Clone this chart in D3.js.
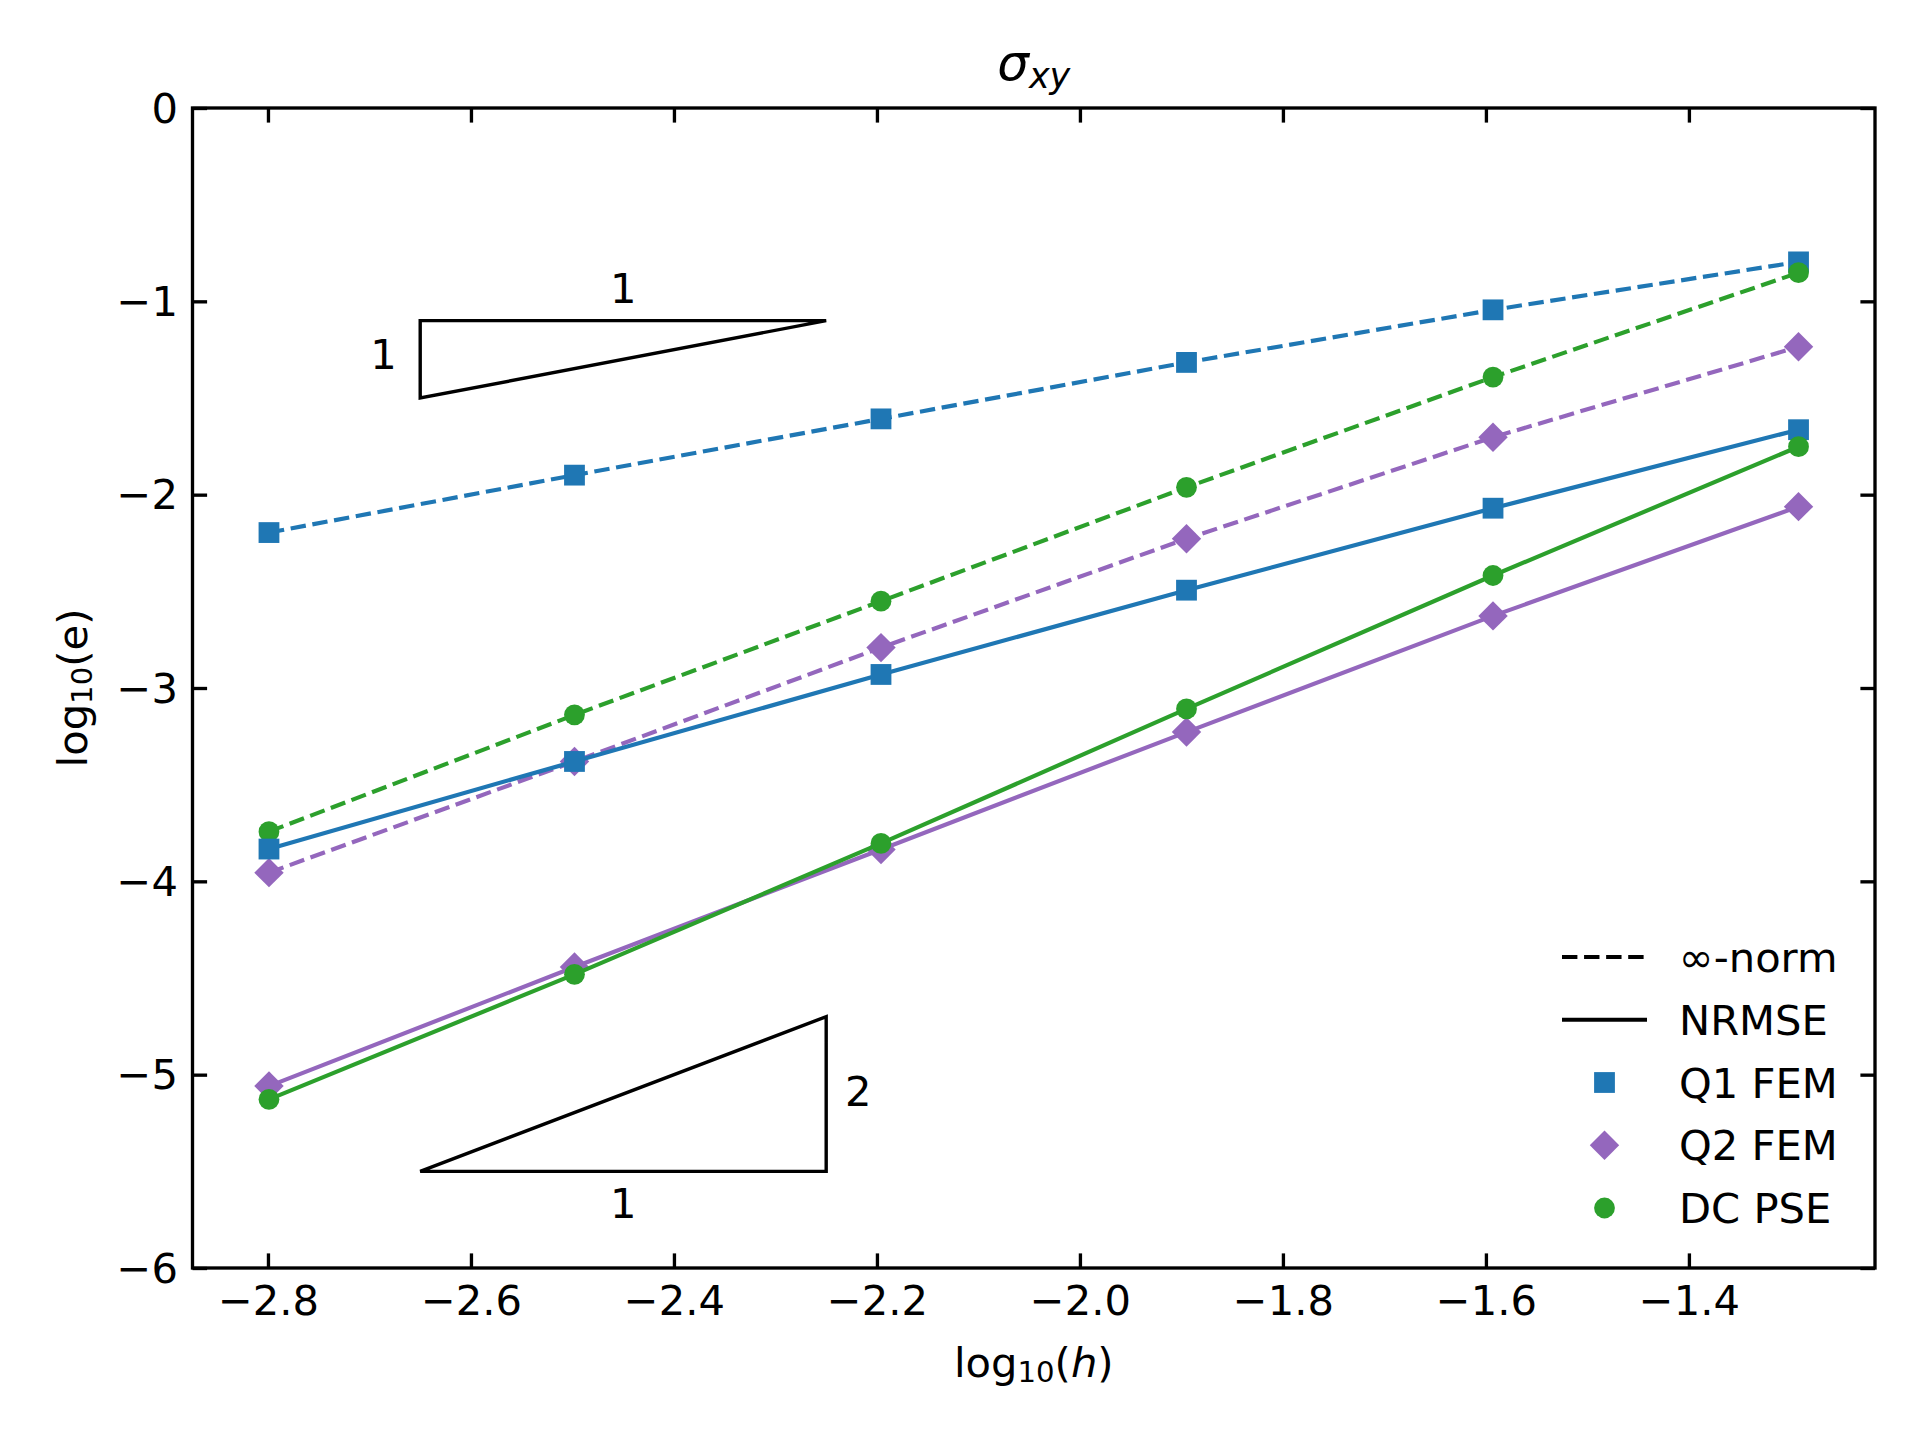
<!DOCTYPE html>
<html>
<head>
<meta charset="utf-8">
<script src="https://cdn.jsdelivr.net/npm/d3@7"></script>
<style>
    body { margin: 0; background: #ffffff; }
    svg { display: block; font-family: "DejaVu Sans", sans-serif; }
</style>
</head>
<body>
<svg id="svg-chart"></svg>
<script>
// data
const logH = [-2.799, -2.498, -2.196, -1.895, -1.593, -1.292];

const q1Inf   = [-2.196, -1.899, -1.608, -1.316, -1.044, -0.796];
const q1Rmse  = [-3.833, -3.380, -2.930, -2.494, -2.070, -1.664];
const q2Inf   = [-3.955, -3.380, -2.791, -2.228, -1.703, -1.235];
const q2Rmse  = [-5.059, -4.443, -3.835, -3.228, -2.627, -2.062];
const dcInf   = [-3.743, -3.139, -2.551, -1.962, -1.392, -0.852];
const dcRmse  = [-5.128, -4.481, -3.804, -3.108, -2.418, -1.752];

const methodNames = ['Q1 FEM', 'Q2 FEM', 'DC PSE'];
const normNames = ['\u221e-norm', 'NRMSE'];

const xTicks = [-2.8, -2.6, -2.4, -2.2, -2.0, -1.8, -1.6, -1.4];
const yTicks = [0, -1, -2, -3, -4, -5, -6];

// slope triangles (data coordinates) and their labels (baseline in data units)
const triSlope1 = [[-2.65, -1.1], [-2.25, -1.1], [-2.65, -1.5]];
const triSlope2 = [[-2.65, -5.5], [-2.25, -5.5], [-2.25, -4.7]];
const triLabels = [
    {text: '1', x: -2.45, y: -1.009, anchor: 'middle'},
    {text: '1', x: -2.673, y: -1.350, anchor: 'end'},
    {text: '2', x: -2.2315, y: -5.162, anchor: 'start'},
    {text: '1', x: -2.45, y: -5.741, anchor: 'middle'}
];

// layout
const width = 1920, height = 1440;
const margin = {left: 192.5, top: 108, right: 45, bottom: 172};
const plotW = width - margin.left - margin.right,
      plotH = height - margin.top - margin.bottom;
const fontSize = 41.67;
const tickLen = 14.6;
const colors = ['#1f77b4', '#9467bd', '#2ca02c'];
const dash = '15.4,6.67';

let svg = d3.select('#svg-chart')
    .attr('width', width)
    .attr('height', height);
svg.append('rect').attr('width', width).attr('height', height).attr('fill', '#ffffff');

// x domain gets 5% padding like matplotlib
let xExt = d3.extent(logH), xPad = (xExt[1] - xExt[0]) * 0.05;
let xScale = d3.scaleLinear()
    .domain([xExt[0] - xPad, xExt[1] + xPad])
    .range([0, plotW]);
let yScale = d3.scaleLinear()
    .domain([-6, 0])
    .range([plotH, 0]);

let g = svg.append('g')
    .attr('transform', 'translate(' + margin.left + ',' + margin.top + ')');

// series: all inf-norm lines first, then NRMSE (same as the drawing order)
const series = [
    {vals: q1Inf, m: 0, dashed: true},
    {vals: q2Inf, m: 1, dashed: true},
    {vals: dcInf, m: 2, dashed: true},
    {vals: q1Rmse, m: 0, dashed: false},
    {vals: q2Rmse, m: 1, dashed: false},
    {vals: dcRmse, m: 2, dashed: false}
];

const symbols = [
    d3.symbol().type(d3.symbolSquare).size(20.8 * 20.8),
    d3.symbol().type(d3.symbolSquare).size(20.8 * 20.8),
    d3.symbol().type(d3.symbolCircle).size(Math.PI * 10.4 * 10.4)
];
const rotations = [0, 45, 0];

let line = d3.line()
    .x(function (d, i) { return xScale(logH[i]); })
    .y(function (d) { return yScale(d); });

for (let s of series) {
    let gs = g.append('g');
    gs.append('path')
        .datum(s.vals)
        .attr('d', line)
        .attr('fill', 'none')
        .attr('stroke', colors[s.m])
        .attr('stroke-width', 4.17)
        .attr('stroke-dasharray', s.dashed ? dash : null);
    gs.selectAll('.marker')
        .data(s.vals)
        .enter()
        .append('path')
        .attr('class', 'marker')
        .attr('d', symbols[s.m])
        .attr('transform', function (d, i) {
            return 'translate(' + xScale(logH[i]) + ',' + yScale(d) + ') rotate(' + rotations[s.m] + ')';
        })
        .attr('fill', colors[s.m]);
}

// slope triangles
for (let tri of [triSlope1, triSlope2]) {
    g.append('path')
        .attr('d', 'M' + tri.map(function (p) { return xScale(p[0]) + ',' + yScale(p[1]); }).join('L') + 'Z')
        .attr('fill', 'none')
        .attr('stroke', '#000')
        .attr('stroke-width', 3.4)
        .attr('stroke-linejoin', 'miter');
}
g.selectAll('.tri-label')
    .data(triLabels)
    .enter()
    .append('text')
    .attr('class', 'tri-label')
    .attr('x', function (d) { return xScale(d.x); })
    .attr('y', function (d) { return yScale(d.y); })
    .attr('text-anchor', function (d) { return d.anchor; })
    .attr('font-size', fontSize)
    .text(function (d) { return d.text; });

// axes with inward ticks on all four sides
let fmtX = d3.format('.1f'), fmtY = d3.format('d');
let axB = g.append('g').attr('transform', 'translate(0,' + plotH + ')')
    .call(d3.axisBottom(xScale).tickValues(xTicks).tickFormat(fmtX).tickSize(-tickLen).tickSizeOuter(0).tickPadding(17));
let axT = g.append('g')
    .call(d3.axisTop(xScale).tickValues(xTicks).tickFormat('').tickSize(-tickLen).tickSizeOuter(0));
let axL = g.append('g')
    .call(d3.axisLeft(yScale).tickValues(yTicks).tickFormat(fmtY).tickSize(-tickLen).tickSizeOuter(0).tickPadding(14.6));
let axR = g.append('g').attr('transform', 'translate(' + plotW + ',0)')
    .call(d3.axisRight(yScale).tickValues(yTicks).tickFormat('').tickSize(-tickLen).tickSizeOuter(0));

for (let ax of [axB, axT, axL, axR]) {
    ax.select('.domain').remove();
    ax.selectAll('line').attr('stroke', '#000').attr('stroke-width', 3.33);
    ax.selectAll('text')
        .attr('font-size', fontSize)
        .attr('font-family', '"DejaVu Sans", sans-serif')
        .attr('fill', '#000');
}
axL.selectAll('text').attr('dy', '0.34em');

// frame
g.append('rect')
    .attr('width', plotW)
    .attr('height', plotH)
    .attr('fill', 'none')
    .attr('stroke', '#000')
    .attr('stroke-width', 3.33);

// title  sigma_xy
let title = svg.append('text')
    .attr('x', margin.left + plotW / 2)
    .attr('y', 80)
    .attr('text-anchor', 'middle')
    .attr('font-size', 50)
    .attr('font-style', 'italic');
title.append('tspan').text('\u03c3');
title.append('tspan').attr('dy', 8).attr('font-size', 35).text('xy');

// x label
let xLab = svg.append('text')
    .attr('x', margin.left + plotW / 2)
    .attr('y', 1377)
    .attr('text-anchor', 'middle')
    .attr('font-size', fontSize);
xLab.append('tspan').text('log');
xLab.append('tspan').attr('dy', 5).attr('font-size', 29.2).text('10');
xLab.append('tspan').attr('dy', -5).text('(');
xLab.append('tspan').attr('font-style', 'italic').text('h');
xLab.append('tspan').text(')');

// y label
let yLab = svg.append('text')
    .attr('transform', 'translate(87,' + (margin.top + plotH / 2) + ') rotate(-90)')
    .attr('text-anchor', 'middle')
    .attr('font-size', fontSize);
yLab.append('tspan').text('log');
yLab.append('tspan').attr('dy', 5).attr('font-size', 29.2).text('10');
yLab.append('tspan').attr('dy', -5).text('(e)');

// legend, no frame
let legend = svg.append('g').attr('transform', 'translate(1562,957)');
const rowStep = 62.75;
const legendRows = [
    {label: normNames[0], kind: 'line', dashed: true},
    {label: normNames[1], kind: 'line', dashed: false},
    {label: methodNames[0], kind: 'marker', m: 0},
    {label: methodNames[1], kind: 'marker', m: 1},
    {label: methodNames[2], kind: 'marker', m: 2}
];
legendRows.forEach(function (row, i) {
    let gr = legend.append('g').attr('transform', 'translate(0,' + i * rowStep + ')');
    if (row.kind === 'line') {
        gr.append('line')
            .attr('x1', 0).attr('x2', 85)
            .attr('stroke', '#000')
            .attr('stroke-width', 4.17)
            .attr('stroke-dasharray', row.dashed ? dash : null);
    } else {
        gr.append('path')
            .attr('d', symbols[row.m])
            .attr('transform', 'translate(42.5,0) rotate(' + rotations[row.m] + ')')
            .attr('fill', colors[row.m]);
    }
    gr.append('text')
        .attr('x', 117)
        .attr('y', 15)
        .attr('font-size', fontSize)
        .text(row.label);
});
</script>
</body>
</html>
